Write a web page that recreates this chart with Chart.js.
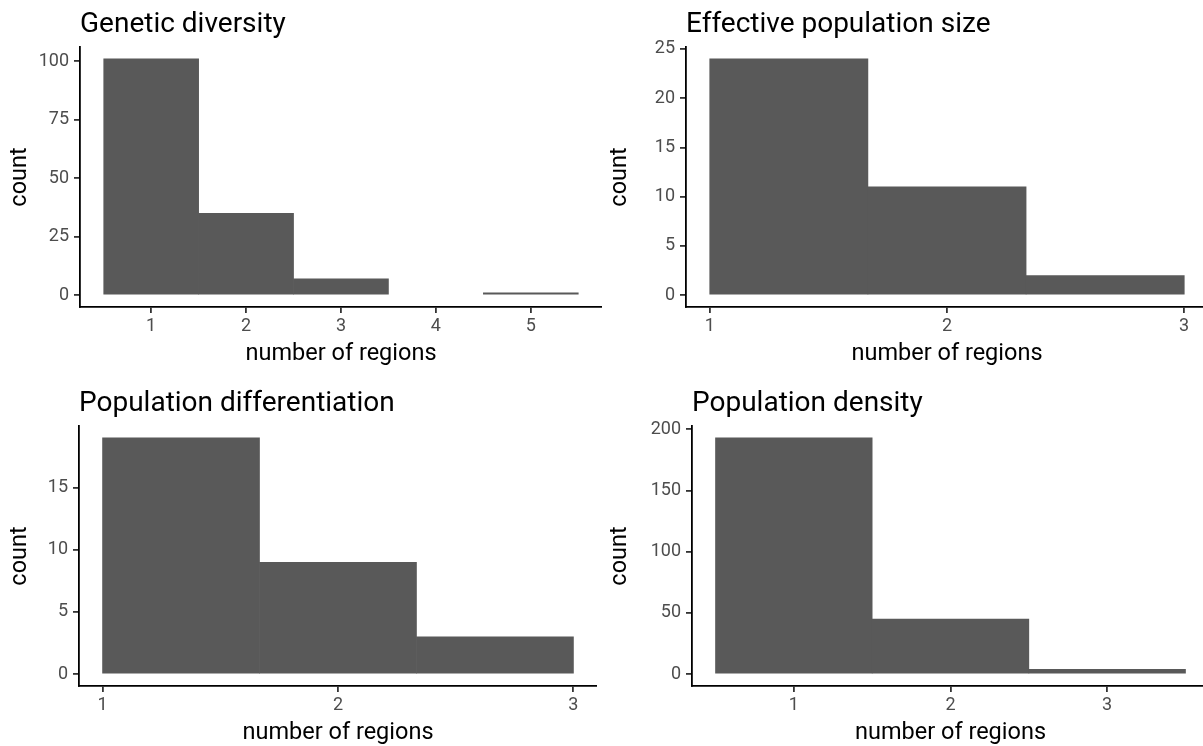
<!DOCTYPE html>
<html>
<head>
<meta charset="utf-8">
<script src="https://cdn.jsdelivr.net/npm/chart.js@4.4.1/dist/chart.umd.min.js"></script>
<style>
  html, body { margin: 0; padding: 0; background: #fff; overflow: hidden; width: 1203px; height: 746px; }
  canvas { position: absolute; }
</style>
</head>
<body>
<canvas id="c1" width="602" height="373" style="left:0;top:0"></canvas>
<canvas id="c2" width="608" height="373" style="left:600px;top:0"></canvas>
<canvas id="c3" width="597" height="373" style="left:0;top:379px"></canvas>
<canvas id="c4" width="609" height="373" style="left:600px;top:379px"></canvas>
<script>
// histogram data
const geneticBins = [1, 2, 3, 4, 5];
const geneticCounts = [101, 35, 7, 0, 1];
const geneticXTicks = [1, 2, 3, 4, 5];
const geneticYTicks = [0, 25, 50, 75, 100];

const effectiveBins = [1.333, 2, 2.667];
const effectiveCounts = [24, 11, 2];
const effectiveXTicks = [1, 2, 3];
const effectiveYTicks = [0, 5, 10, 15, 20, 25];

const diffBins = [1.333, 2, 2.667];
const diffCounts = [19, 9, 3];
const diffXTicks = [1, 2, 3];
const diffYTicks = [0, 5, 10, 15];

const densityBins = [1, 2, 3];
const densityCounts = [193, 45, 4];
const densityXTicks = [1, 2, 3];
const densityYTicks = [0, 50, 100, 150, 200];

Chart.defaults.font.family = 'Roboto';
Chart.defaults.animation = false;

// ggplot style 5% expansion
function expand(lo, hi) {
    const d = (hi - lo) * 0.05;
    return [lo - d, hi + d];
}

function makeHist(id, title, bins, counts, binWidth, xTicks, yTicks, yAxisWidth) {
    const xr = expand(bins[0] - binWidth / 2, bins[bins.length - 1] + binWidth / 2);
    const yr = expand(0, Math.max(...counts));
    const tickGrid = { display: true, offset: false, drawOnChartArea: false, drawTicks: true, tickLength: 6, color: '#333', lineWidth: 1.8 };
    const border = { display: true, color: '#000', width: 1.8 };

    new Chart(document.getElementById(id), {
        type: 'bar',
        data: {
            datasets: [{
                // empty bins are not drawn, as in ggplot
                data: bins.map((b, i) => ({ x: b, y: counts[i] || null })),
                backgroundColor: '#595959',
                borderWidth: 0,
                barPercentage: 1,
                categoryPercentage: 1
            }]
        },
        options: {
            responsive: false,
            plugins: {
                legend: { display: false },
                tooltip: { enabled: false },
                title: {
                    display: true, text: title, align: 'start', fullSize: false,
                    color: '#000', font: { size: 28, weight: 'normal' },
                    padding: { top: 8, bottom: 5.4 }
                }
            },
            scales: {
                x: {
                    type: 'linear', min: xr[0], max: xr[1], offset: false,
                    grid: tickGrid, border: border,
                    ticks: { color: '#4d4d4d', font: { size: 18 }, padding: 3, callback: v => String(v) },
                    title: { display: true, text: 'number of regions', color: '#000', font: { size: 23.5 }, padding: { top: 0, bottom: 5 } },
                    afterBuildTicks: s => { s.ticks = xTicks.map(v => ({ value: v })); },
                    afterFit: s => { s.height = 66; }
                },
                y: {
                    type: 'linear', min: yr[0], max: yr[1],
                    grid: tickGrid, border: border,
                    ticks: { color: '#4d4d4d', font: { size: 18 }, padding: 5, callback: v => String(v) },
                    title: { display: true, text: 'count', color: '#000', font: { size: 23.5 }, padding: { top: 6, bottom: 0 } },
                    afterBuildTicks: s => { s.ticks = yTicks.map(v => ({ value: v })); },
                    afterFit: s => { s.width = yAxisWidth; }
                }
            }
        }
    });
}

makeHist('c1', 'Genetic diversity', geneticBins, geneticCounts, 1, geneticXTicks, geneticYTicks, 80);
makeHist('c2', 'Effective population size', effectiveBins, effectiveCounts, 0.667, effectiveXTicks, effectiveYTicks, 86);
makeHist('c3', 'Population differentiation', diffBins, diffCounts, 0.667, diffXTicks, diffYTicks, 79);
makeHist('c4', 'Population density', densityBins, densityCounts, 1, densityXTicks, densityYTicks, 92);
</script>
</body>
</html>
